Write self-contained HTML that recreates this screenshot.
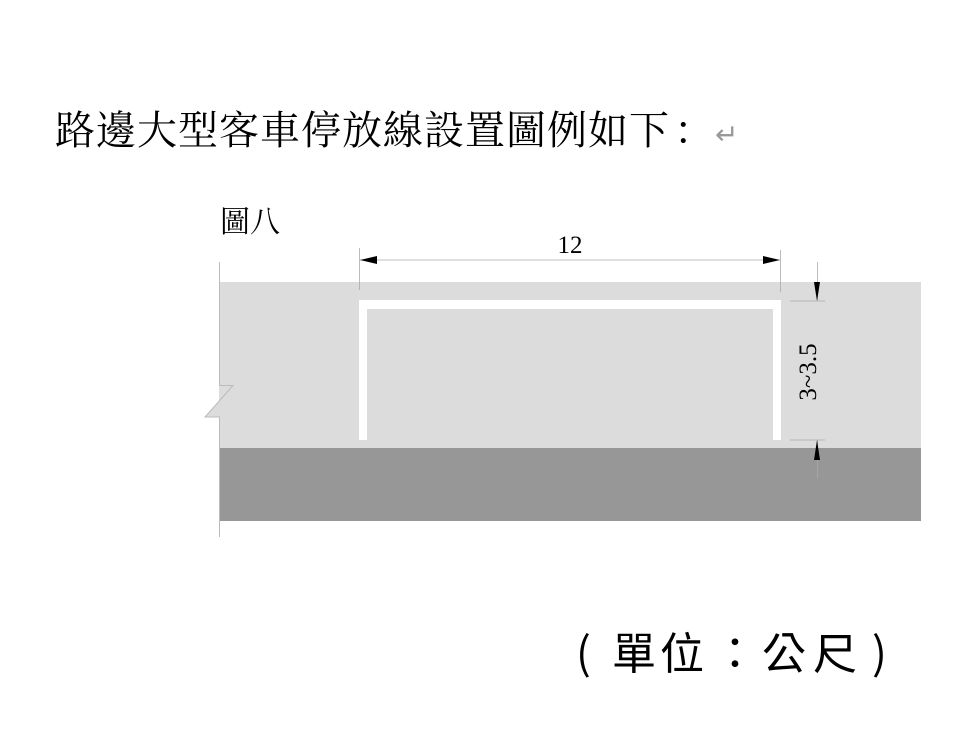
<!DOCTYPE html>
<html><head><meta charset="utf-8"><style>
body{margin:0;background:#fff;width:963px;height:742px;overflow:hidden;position:relative}
.t{position:absolute;white-space:nowrap;line-height:1}
.s{font-family:"Liberation Serif","Noto Serif CJK SC",serif;color:#000}
.a{font-family:"Noto Sans CJK TC",sans-serif;color:#000;font-size:44px}
</style></head><body>
<div class="t s" style="left:55px;top:108px;font-size:40px;letter-spacing:1px">路邊大型客車停放線設置圖例如下<span style="font-family:'Noto Serif CJK SC',serif;margin-left:4px">：</span><span style="color:#999;font-size:28px;font-family:'DejaVu Sans',sans-serif">↵</span></div>
<div class="t s" style="left:220px;top:208px;font-size:30px">圖八</div>
<svg style="position:absolute;left:0;top:0" width="963" height="742">
<rect x="219" y="282" width="702" height="166" fill="#dcdcdc"/>
<rect x="219" y="448" width="702" height="73" fill="#979797"/>
<polygon points="219,385 233,385 205,417 219,417" fill="#dcdcdc"/>
<polyline points="219.5,262 219.5,385.5 233,385.5 205,417 219.5,417 219.5,537" fill="none" stroke="#bbb" stroke-width="1"/>
<path d="M359,440 L359,300 L781,300 L781,440 L773,440 L773,309 L367,309 L367,440 Z" fill="#fff"/>
<line x1="359.5" y1="248" x2="359.5" y2="290" stroke="#aaa" stroke-width="0.8"/>
<line x1="780.5" y1="250" x2="780.5" y2="292" stroke="#aaa" stroke-width="0.8"/>
<line x1="360" y1="260" x2="780" y2="260" stroke="#aaa" stroke-width="0.8"/>
<polygon points="360,260 377,256 377,264" fill="#000"/>
<polygon points="780,260 763,256 763,264" fill="#000"/>
<text x="570" y="253" font-family="Liberation Serif,serif" font-size="25" text-anchor="middle">12</text>
<line x1="817.5" y1="262" x2="817.5" y2="300" stroke="#aaa" stroke-width="0.8"/>
<line x1="790" y1="301" x2="825" y2="301" stroke="#aaa" stroke-width="0.8"/>
<polygon points="817,301 814,282 820,282" fill="#000"/>
<line x1="817.5" y1="440" x2="817.5" y2="478" stroke="#aaa" stroke-width="0.8"/>
<line x1="790" y1="440" x2="825" y2="440" stroke="#aaa" stroke-width="0.8"/>
<polygon points="817,440 814,460 820,460" fill="#000"/>
<text transform="translate(816,372) rotate(-90)" font-family="Liberation Serif,serif" font-size="25" text-anchor="middle">3~3.5</text>
</svg>
<div class="t a" style="left:576px;top:628px">(</div>
<div class="t a" style="left:612px;top:628px">單</div>
<div class="t a" style="left:660px;top:628px">位</div>
<div class="t a" style="left:713px;top:628px">：</div>
<div class="t a" style="left:762px;top:628px">公</div>
<div class="t a" style="left:813px;top:628px">尺</div>
<div class="t a" style="left:872px;top:628px">)</div>
</body></html>
